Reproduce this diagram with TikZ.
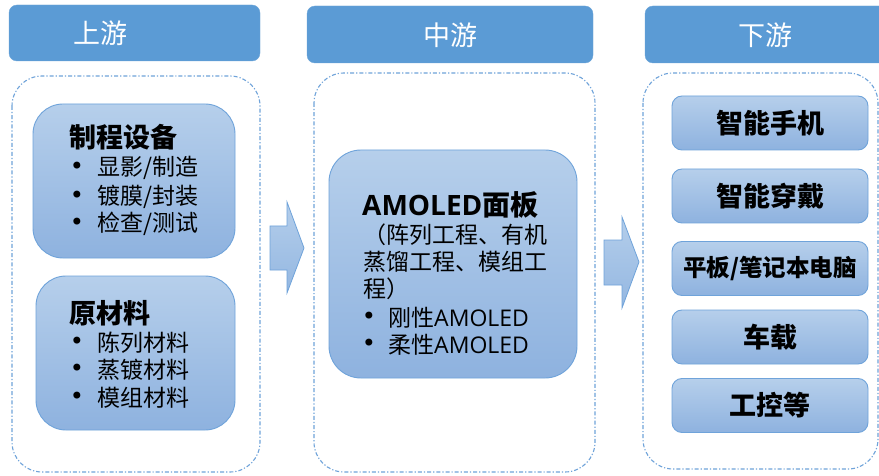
\documentclass[tikz,border=0pt]{standalone}
\usepackage{fontspec}
\setmainfont{Noto Sans CJK SC}
\newfontfamily\lat{Open Sans}
\newfontfamily\bulfont{DejaVu Sans}
\definecolor{hdr}{HTML}{5B9BD5}
\definecolor{boxtop}{HTML}{B6CFEB}
\definecolor{boxbot}{HTML}{8EB2DF}
\definecolor{boxline}{HTML}{6FA3DA}
\definecolor{dashc}{HTML}{6FA3DA}
\definecolor{arrtop}{HTML}{B4CEEB}
\definecolor{arrbot}{HTML}{94B7E1}
\tikzset{
  header/.style={fill=hdr, draw=hdr!90!white, rounded corners=8pt, text=white, font=\fontsize{27}{27}\selectfont, inner sep=0pt},
  htxt/.style={text=white, font=\fontsize{27}{27}\selectfont, inner sep=0pt},
  container/.style={draw=dashc, line width=1.1pt, dash pattern=on 4pt off 2pt on 1.2pt off 2pt, rounded corners=30pt},
  gbox/.style={top color=boxtop, bottom color=boxbot, draw=boxline, line width=0.9pt, inner sep=0pt},
  ttl/.style={anchor=west, font=\fontsize{27}{27}\selectfont\bfseries, inner sep=0pt},
  itm/.style={anchor=west, font=\fontsize{23}{23}\selectfont, inner sep=0pt},
  bul/.style={anchor=center, font=\bulfont\fontsize{24}{24}\selectfont, inner sep=0pt},
  rtxt/.style={font=\fontsize{27}{27}\selectfont\bfseries, inner sep=0pt},
  bigarrow/.style={top color=arrtop, bottom color=arrbot, draw=boxline, line width=0.8pt},
}
\begin{document}
\begin{tikzpicture}[x=1pt,y=-1pt]
\useasboundingbox (0,0) rectangle (879,476);
\fill[white] (0,0) rectangle (879,476);
% headers
\path[header] (9,5) rectangle (260,61);
\node[htxt] (h1) at (100,33) {上游};
\path[header] (307,6) rectangle (593,63);
\node[htxt] (h2) at (450,35) {中游};
\path[header] (645,6) rectangle (900,63);
\node[htxt] (h3) at (765,35) {下游};
% containers
\draw[container] (12,76) rectangle (260,472);
\draw[container] (314,73) rectangle (595,472);
\draw[container] (643,73) rectangle (878,469);
% left boxes
\node[gbox, rounded corners=30pt, minimum width=202pt, minimum height=154pt] (b1) at (134,181) {};
\node[gbox, rounded corners=30pt, minimum width=199pt, minimum height=154pt] (b2) at (135.5,353) {};
\node[ttl] (t1) at (69,137) {制程设备};
\node[bul] (u11) at (77,168) {•};
\node[itm] (i11) at (97,168) {显影/制造};
\node[bul] (u12) at (77,197) {•};
\node[itm] (i12) at (97,197) {镀膜/封装};
\node[bul] (u13) at (77,224) {•};
\node[itm] (i13) at (97,224) {检查/测试};
\node[ttl] (t2) at (69,313) {原材料};
\node[bul] (u21) at (77,343) {•};
\node[itm] (i21) at (97,343) {陈列材料};
\node[bul] (u22) at (77,370) {•};
\node[itm] (i22) at (97,370) {蒸镀材料};
\node[bul] (u23) at (77,398) {•};
\node[itm] (i23) at (97,398) {模组材料};
% middle box
\node[gbox, rounded corners=32pt, minimum width=248pt, minimum height=228pt] (m) at (453,264) {};
\node[ttl, font=\fontsize{28}{28}\selectfont\bfseries] (mt) at (362,205) {{\lat\bfseries AMOLED}面板};
\node[itm] (m1) at (363,235) {（阵列工程、有机};
\node[itm] (m2) at (363,262) {蒸馏工程、模组工};
\node[itm] (m3) at (363,289) {程）};
\node[bul] (mu1) at (369,318) {•};
\node[itm] (m4) at (388,318) {刚性{\lat AMOLED}};
\node[bul] (mu2) at (369,345) {•};
\node[itm] (m5) at (388,345) {柔性{\lat AMOLED}};
% right boxes
\node[gbox, rounded corners=10pt, minimum width=196pt, minimum height=54pt] (r1) at (770,123) {};
\node[gbox, rounded corners=10pt, minimum width=196pt, minimum height=54pt] (r2) at (770,196) {};
\node[gbox, rounded corners=10pt, minimum width=196pt, minimum height=54pt] (r3) at (770,268.5) {};
\node[gbox, rounded corners=10pt, minimum width=196pt, minimum height=54pt] (r4) at (770,337) {};
\node[gbox, rounded corners=10pt, minimum width=196pt, minimum height=54pt] (r5) at (770,405.5) {};
\node[rtxt] at (r1) (rt1) {智能手机};
\node[rtxt] at (r2) (rt2) {智能穿戴};
\node[rtxt, font=\fontsize{23.5}{23.5}\selectfont\bfseries] at (r3) (rt3) {平板/笔记本电脑};
\node[rtxt] at (r4) (rt4) {车载};
\node[rtxt] at (r5) (rt5) {工控等};
% arrows
\draw[bigarrow] (270,226) -- (287,226) -- (287,202) -- (304,248) -- (287,293) -- (287,270) -- (270,270) -- cycle;
\draw[bigarrow] (604,240) -- (622,240) -- (622,217) -- (639,262) -- (622,308) -- (622,285) -- (604,285) -- cycle;
\end{tikzpicture}
\end{document}
